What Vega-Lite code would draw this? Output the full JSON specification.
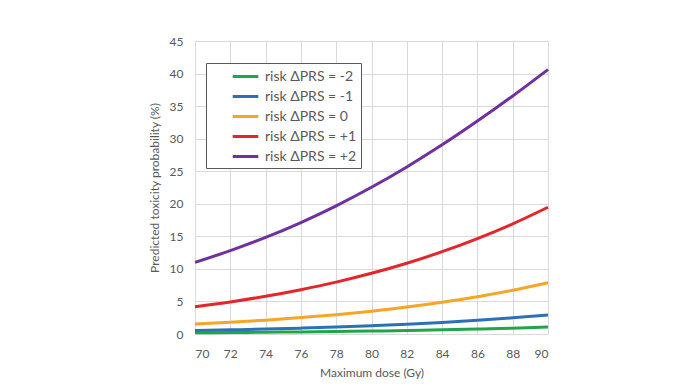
{
  "$schema": "https://vega.github.io/schema/vega-lite/v6.json",
  "width": 353,
  "height": 293,
  "autosize": {"type": "none"},
  "padding": {"left": 195, "top": 41, "right": 139, "bottom": 58},
  "background": "white",
  "config": {
    "font": "Lato",
    "view": {"stroke": null},
    "axis": {"grid": true, "gridColor": "#d9d9d9", "gridWidth": 1, "ticks": false, "domain": false, "labelColor": "#595959", "labelFontSize": 12, "titleColor": "#595959", "titleFontSize": 12, "titleFontWeight": "normal"}
  },
  "data": {"values": [
    {"dose": 70, "p": 0.19, "s": "risk ΔPRS = -2"}, {"dose": 72, "p": 0.23, "s": "risk ΔPRS = -2"}, {"dose": 74, "p": 0.27, "s": "risk ΔPRS = -2"}, {"dose": 76, "p": 0.32, "s": "risk ΔPRS = -2"}, {"dose": 78, "p": 0.38, "s": "risk ΔPRS = -2"}, {"dose": 80, "p": 0.45, "s": "risk ΔPRS = -2"}, {"dose": 82, "p": 0.54, "s": "risk ΔPRS = -2"}, {"dose": 84, "p": 0.64, "s": "risk ΔPRS = -2"}, {"dose": 86, "p": 0.75, "s": "risk ΔPRS = -2"}, {"dose": 88, "p": 0.89, "s": "risk ΔPRS = -2"}, {"dose": 90, "p": 1.06, "s": "risk ΔPRS = -2"},
    {"dose": 70, "p": 0.54, "s": "risk ΔPRS = -1"}, {"dose": 72, "p": 0.64, "s": "risk ΔPRS = -1"}, {"dose": 74, "p": 0.76, "s": "risk ΔPRS = -1"}, {"dose": 76, "p": 0.90, "s": "risk ΔPRS = -1"}, {"dose": 78, "p": 1.07, "s": "risk ΔPRS = -1"}, {"dose": 80, "p": 1.27, "s": "risk ΔPRS = -1"}, {"dose": 82, "p": 1.50, "s": "risk ΔPRS = -1"}, {"dose": 84, "p": 1.78, "s": "risk ΔPRS = -1"}, {"dose": 86, "p": 2.10, "s": "risk ΔPRS = -1"}, {"dose": 88, "p": 2.48, "s": "risk ΔPRS = -1"}, {"dose": 90, "p": 2.93, "s": "risk ΔPRS = -1"},
    {"dose": 70, "p": 1.52, "s": "risk ΔPRS =  0"}, {"dose": 72, "p": 1.80, "s": "risk ΔPRS =  0"}, {"dose": 74, "p": 2.13, "s": "risk ΔPRS =  0"}, {"dose": 76, "p": 2.52, "s": "risk ΔPRS =  0"}, {"dose": 78, "p": 2.97, "s": "risk ΔPRS =  0"}, {"dose": 80, "p": 3.51, "s": "risk ΔPRS =  0"}, {"dose": 82, "p": 4.13, "s": "risk ΔPRS =  0"}, {"dose": 84, "p": 4.87, "s": "risk ΔPRS =  0"}, {"dose": 86, "p": 5.72, "s": "risk ΔPRS =  0"}, {"dose": 88, "p": 6.72, "s": "risk ΔPRS =  0"}, {"dose": 90, "p": 7.87, "s": "risk ΔPRS =  0"},
    {"dose": 70, "p": 4.19, "s": "risk ΔPRS = +1"}, {"dose": 72, "p": 4.93, "s": "risk ΔPRS = +1"}, {"dose": 74, "p": 5.80, "s": "risk ΔPRS = +1"}, {"dose": 76, "p": 6.81, "s": "risk ΔPRS = +1"}, {"dose": 78, "p": 7.97, "s": "risk ΔPRS = +1"}, {"dose": 80, "p": 9.32, "s": "risk ΔPRS = +1"}, {"dose": 82, "p": 10.87, "s": "risk ΔPRS = +1"}, {"dose": 84, "p": 12.64, "s": "risk ΔPRS = +1"}, {"dose": 86, "p": 14.65, "s": "risk ΔPRS = +1"}, {"dose": 88, "p": 16.92, "s": "risk ΔPRS = +1"}, {"dose": 90, "p": 19.47, "s": "risk ΔPRS = +1"},
    {"dose": 70, "p": 11.0, "s": "risk ΔPRS = +2"}, {"dose": 72, "p": 12.8, "s": "risk ΔPRS = +2"}, {"dose": 74, "p": 14.83, "s": "risk ΔPRS = +2"}, {"dose": 76, "p": 17.12, "s": "risk ΔPRS = +2"}, {"dose": 78, "p": 19.69, "s": "risk ΔPRS = +2"}, {"dose": 80, "p": 22.53, "s": "risk ΔPRS = +2"}, {"dose": 82, "p": 25.66, "s": "risk ΔPRS = +2"}, {"dose": 84, "p": 29.05, "s": "risk ΔPRS = +2"}, {"dose": 86, "p": 32.70, "s": "risk ΔPRS = +2"}, {"dose": 88, "p": 36.56, "s": "risk ΔPRS = +2"}, {"dose": 90, "p": 40.62, "s": "risk ΔPRS = +2"}
  ]},
  "mark": {"type": "line", "interpolate": "monotone", "strokeWidth": 3},
  "encoding": {
    "x": {"field": "dose", "type": "quantitative", "scale": {"domain": [70, 90], "nice": false}, "axis": {"values": [70, 72, 74, 76, 78, 80, 82, 84, 86, 88, 90], "title": "Maximum dose (Gy)", "labelPadding": 14, "titlePadding": 8}},
    "y": {"field": "p", "type": "quantitative", "scale": {"domain": [0, 45], "nice": false}, "axis": {"values": [0, 5, 10, 15, 20, 25, 30, 35, 40, 45], "title": "Predicted toxicity probability (%)", "labelPadding": 12, "titlePadding": 8}},
    "color": {"field": "s", "type": "nominal", "scale": {"domain": ["risk ΔPRS = -2", "risk ΔPRS = -1", "risk ΔPRS =  0", "risk ΔPRS = +1", "risk ΔPRS = +2"], "range": ["#1fa64a", "#2e70b8", "#f7a427", "#e3262b", "#7030a0"]},
      "legend": {"orient": "none", "legendX": 11, "legendY": 22, "title": null, "symbolType": "M-1.6,0L1.6,0", "symbolSize": 256, "symbolStrokeWidth": 3, "symbolOffset": 26, "labelFontSize": 14, "labelColor": "#595959", "rowPadding": 3, "padding": 4, "strokeColor": "#595959", "fillColor": "white", "labelOffset": 10}}
  }
}
